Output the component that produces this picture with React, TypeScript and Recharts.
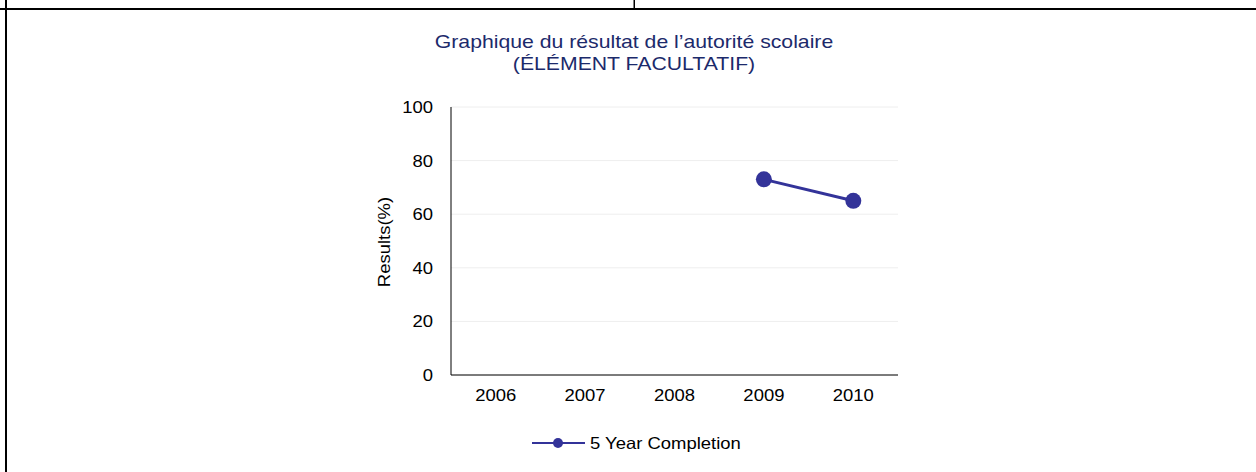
import React from 'react';
import { LineChart, Line, XAxis, YAxis, CartesianGrid } from 'recharts';

const years = ['2006', '2007', '2008', '2009', '2010'];
const completion: (number | null)[] = [null, null, null, 73, 65];
const yTicks = [0, 20, 40, 60, 80, 100];
const titleLines = ['Graphique du résultat de l’autorité scolaire', '(ÉLÉMENT FACULTATIF)'];
const seriesName = '5 Year Completion';
const yLabel = 'Results(%)';

const data = years.map((y, i) => ({ year: y, completion: completion[i] }));

const FONT = '"Liberation Sans", Arial, Helvetica, sans-serif';
const SX = 1.12;
const FS = 16.5;
const SERIES_COLOR = '#333399';
const TITLE_COLOR = '#1c2a6b';

const YTick = (props: any) => {
  const { x, y, payload } = props;
  return (
    <text
      transform={`translate(${x},${y + 6}) scale(${SX},1)`}
      textAnchor="end"
      fontFamily={FONT}
      fontSize={FS}
      fill="#000"
    >
      {payload.value}
    </text>
  );
};

const XTick = (props: any) => {
  const { x, y, payload } = props;
  return (
    <text
      transform={`translate(${x},${y + 26}) scale(${SX},1)`}
      textAnchor="middle"
      fontFamily={FONT}
      fontSize={FS}
      fill="#000"
    >
      {payload.value}
    </text>
  );
};

export default function App() {
  return (
    <div style={{ position: 'absolute', left: 0, top: 0, width: 1256, height: 472, background: '#fff', overflow: 'hidden' }}>
      <LineChart
        width={1256}
        height={472}
        data={data}
        margin={{ top: 107, right: 358, bottom: 67, left: 391 }}
      >
        <CartesianGrid vertical={false} stroke="#eeeeee" />
        <XAxis
          dataKey="year"
          height={30}
          padding={{ left: 44.7, right: 44.7 }}
          axisLine={{ stroke: '#000', strokeWidth: 1 }}
          tickLine={false}
          tickSize={0}
          tickMargin={0}
          tick={XTick}
          interval={0}
        />
        <YAxis
          width={60}
          domain={[0, 100]}
          ticks={yTicks}
          axisLine={{ stroke: '#000', strokeWidth: 1 }}
          tickLine={false}
          tickSize={0}
          tickMargin={18}
          tick={YTick}
        />
        <Line
          type="linear"
          dataKey="completion"
          name={seriesName}
          stroke={SERIES_COLOR}
          strokeWidth={3}
          dot={{ r: 8, fill: SERIES_COLOR, stroke: SERIES_COLOR, strokeWidth: 0 }}
          activeDot={false}
          connectNulls={false}
          isAnimationActive={false}
        />
      </LineChart>
      <svg
        width={1256}
        height={472}
        style={{ position: 'absolute', left: 0, top: 0, pointerEvents: 'none' }}
      >
        <rect x={0} y={8} width={1256} height={2} fill="#000" />
        <rect x={5} y={0} width={2} height={472} fill="#000" />
        <rect x={633.5} y={0} width={1.5} height={9} fill="#000" />
        {titleLines.map((t, i) => (
          <text
            key={i}
            transform={`translate(634,${48 + i * 22}) scale(1.16,1)`}
            textAnchor="middle"
            fontFamily={FONT}
            fontSize={18.3}
            fill={TITLE_COLOR}
          >
            {t}
          </text>
        ))}
        <text
          transform={`translate(390,242) rotate(-90) scale(${SX},1)`}
          textAnchor="middle"
          fontFamily={FONT}
          fontSize={FS}
          fill="#000"
        >
          {yLabel}
        </text>
        <line x1={532} x2={585} y1={443} y2={443} stroke={SERIES_COLOR} strokeWidth={2} />
        <circle cx={558} cy={443} r={5} fill={SERIES_COLOR} />
        <text
          transform={`translate(590,449) scale(${SX},1)`}
          fontFamily={FONT}
          fontSize={FS}
          fill="#000"
        >
          {seriesName}
        </text>
      </svg>
    </div>
  );
}
